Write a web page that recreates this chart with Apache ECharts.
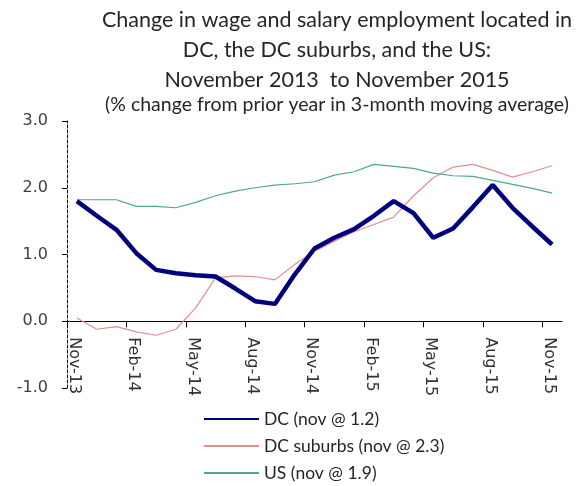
<!DOCTYPE html>
<html>
<head>
<meta charset="utf-8">
<script src="https://cdn.jsdelivr.net/npm/echarts@6/dist/echarts.min.js"></script>
<style>
html,body{margin:0;padding:0;background:#fff;}
#chart{width:587px;height:486px;}
</style>
</head>
<body>
<div id="chart"></div>
<script>
const categories = ['Nov-13','Dec-13','Jan-14','Feb-14','Mar-14','Apr-14','May-14','Jun-14','Jul-14','Aug-14','Sep-14','Oct-14','Nov-14','Dec-14','Jan-15','Feb-15','Mar-15','Apr-15','May-15','Jun-15','Jul-15','Aug-15','Sep-15','Oct-15','Nov-15'];
const dcValues = [1.8,1.58,1.37,1.02,0.77,0.72,0.69,0.67,0.49,0.3,0.26,0.7,1.09,1.25,1.38,1.58,1.8,1.62,1.25,1.39,1.71,2.04,1.7,1.42,1.15];
const suburbValues = [0.05,-0.12,-0.08,-0.16,-0.21,-0.12,0.2,0.65,0.68,0.67,0.62,0.85,1.05,1.2,1.34,1.45,1.56,1.88,2.15,2.31,2.35,2.26,2.16,2.24,2.33];
const usValues = [1.82,1.82,1.82,1.72,1.72,1.70,1.78,1.88,1.95,2.0,2.04,2.06,2.09,2.19,2.24,2.35,2.32,2.29,2.22,2.18,2.17,2.11,2.05,1.99,1.92];
const seriesNames = ['DC (nov @ 1.2)','DC suburbs (nov @ 2.3)','US (nov @ 1.9)'];
const yTicks = [-1, 0, 1, 2, 3];
const titleText = 'Change in wage and salary employment located in\nDC, the DC suburbs, and the US:\nNovember 2013  to November 2015';
const subtitleText = '(% change from prior year in 3-month moving average)';

const tickIdx = categories.map((c, i) => i).filter(i => i % 3 === 0);
const toPoints = arr => arr.map((v, i) => [i + 0.5, v]);

const gridTop = 121, gridBottom = 98, chartH = 486;
const plotH = chartH - gridTop - gridBottom;
const zeroOffset = -plotH * (0 - yTicks[0]) / (yTicks[yTicks.length - 1] - yTicks[0]);

const chart = echarts.init(document.getElementById('chart'), null, {renderer: 'canvas'});
chart.setOption({
  animation: false,
  backgroundColor: '#fff',
  title: {
    text: titleText,
    subtext: subtitleText,
    left: 337,
    top: 5,
    padding: 0,
    textAlign: 'center',
    itemGap: 0,
    textStyle: {fontFamily: 'Lato', fontSize: 21.5, fontWeight: 'normal', color: '#262626', lineHeight: 30},
    subtextStyle: {fontFamily: 'Lato', fontSize: 19.5, color: '#262626', lineHeight: 20}
  },
  legend: {
    orient: 'vertical',
    left: 203,
    top: 410,
    padding: 0,
    height: 80,
    itemWidth: 55,
    itemHeight: 14,
    itemGap: 9,
    data: seriesNames,
    itemStyle: {opacity: 0},
    textStyle: {fontFamily: 'Lato', fontSize: 17.5, color: '#262626', lineHeight: 18}
  },
  grid: {left: 67, right: 25, top: gridTop, bottom: gridBottom, containLabel: false},
  xAxis: {
    type: 'value',
    min: 0,
    max: categories.length,
    offset: zeroOffset,
    splitLine: {show: false},
    axisLine: {onZero: false, lineStyle: {color: '#000', width: 1}},
    axisTick: {show: true, customValues: tickIdx, length: 6, lineStyle: {color: '#000'}},
    axisLabel: {
      customValues: tickIdx.map(i => i + 0.35),
      formatter: v => categories[Math.floor(v)] || '',
      rotate: -90,
      margin: 16,
      fontFamily: 'DejaVu Sans',
      fontSize: 16,
      color: '#333'
    }
  },
  yAxis: {
    type: 'value',
    min: yTicks[0],
    max: yTicks[yTicks.length - 1],
    interval: 1,
    splitLine: {show: false},
    axisLine: {show: true, lineStyle: {color: '#000', width: 1, type: [3, 2]}},
    axisTick: {show: true, length: 5, lineStyle: {color: '#000'}},
    axisLabel: {formatter: v => v.toFixed(1), margin: 19, fontFamily: 'DejaVu Sans', fontSize: 16, color: '#404040'}
  },
  series: [
    {name: seriesNames[0], type: 'line', data: toPoints(dcValues), symbol: 'none', z: 5,
     lineStyle: {color: '#00007f', width: 4.5}, itemStyle: {color: '#00007f'}},
    {name: seriesNames[1], type: 'line', data: toPoints(suburbValues), symbol: 'none', z: 3,
     lineStyle: {color: '#e0908c', width: 1.2}, itemStyle: {color: '#e0908c'}},
    {name: seriesNames[2], type: 'line', data: toPoints(usValues), symbol: 'none', z: 4,
     lineStyle: {color: '#4ea88a', width: 1.2}, itemStyle: {color: '#4ea88a'}}
  ]
});
</script>
</body>
</html>
